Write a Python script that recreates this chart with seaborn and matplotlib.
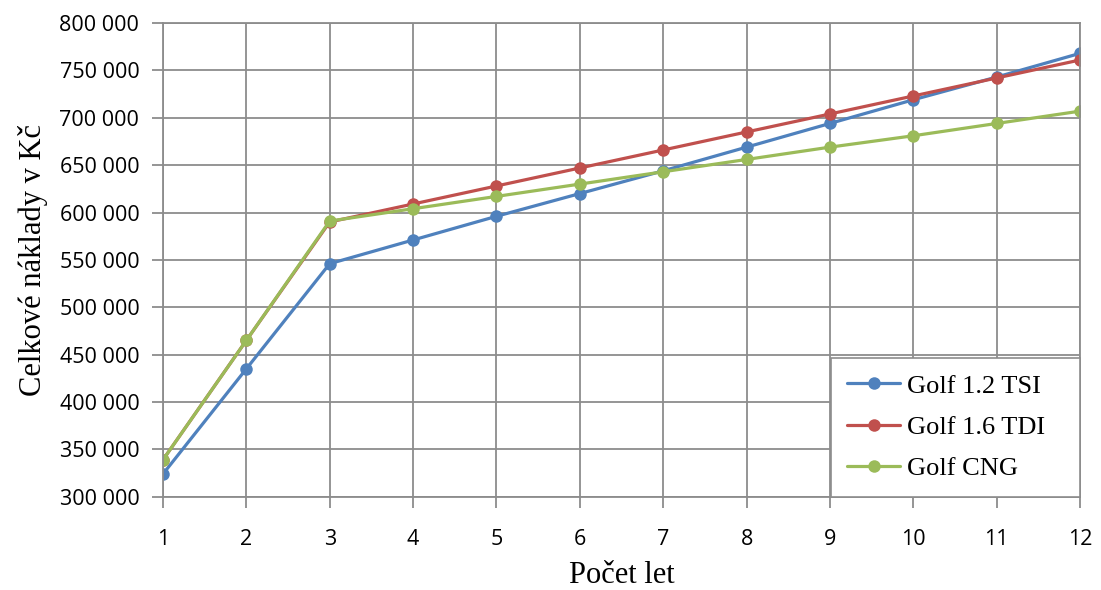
import numpy as np
import pandas as pd
import matplotlib
matplotlib.use('Agg')
import matplotlib.pyplot as plt
import matplotlib.ticker as mticker
import seaborn as sns

# 数据
years = [1, 2, 3, 4, 5, 6, 7, 8, 9, 10, 11, 12]
golf_tsi = [324000, 435000, 546000, 571000, 596000, 620000, 644000, 669000, 694000, 719000, 743000, 768000]
golf_tdi = [339000, 465000, 590000, 609000, 628000, 647000, 666000, 685000, 704000, 723000, 742000, 761000]
golf_cng = [339000, 465000, 591000, 604000, 617000, 630000, 643000, 656000, 669000, 681000, 694000, 707000]
series_names = ['Golf 1.2 TSI', 'Golf 1.6 TDI', 'Golf CNG']
colors = ['#4F81BD', '#C0504D', '#9BBB59']

df = pd.DataFrame({
    'rok': years * 3,
    'naklady': golf_tsi + golf_tdi + golf_cng,
    'auto': [series_names[0]] * 12 + [series_names[1]] * 12 + [series_names[2]] * 12,
})

sns.set_style('white')
plt.rcParams['font.family'] = ['Open Sans', 'DejaVu Sans']
plt.rcParams['text.color'] = 'black'
plt.rcParams['axes.labelcolor'] = 'black'

fig = plt.figure(figsize=(11.01, 5.9), dpi=100)
ax = fig.add_axes([0.148, 0.158, 0.833, 0.803])

sns.lineplot(data=df, x='rok', y='naklady', hue='auto', palette=colors,
             marker='o', markersize=9, markeredgewidth=0, linewidth=2.3, ax=ax)

ax.set_xlim(1, 12)
ax.set_ylim(300000, 800000)
ax.set_xticks(years)
ax.yaxis.set_major_locator(mticker.MultipleLocator(50000))
ax.yaxis.set_major_formatter(mticker.FuncFormatter(lambda v, p: f'{int(v):,}'.replace(',', ' ')))

ax.grid(True, color='#8c8c8c', linewidth=1.3)
ax.set_axisbelow(True)
for s in ax.spines.values():
    s.set_color('#8c8c8c')
    s.set_linewidth(1.3)
ax.tick_params(axis='both', which='major', direction='out', length=8, width=1.3,
               bottom=True, left=True, color='#8c8c8c', labelcolor='black',
               labelsize=15.5)
ax.tick_params(axis='x', pad=15)
ax.tick_params(axis='y', pad=9)

ax.set_xlabel('Počet let', family=['Liberation Serif'], fontsize=22, labelpad=8)
ax.set_ylabel('Celkové náklady v Kč', family=['Liberation Serif'], fontsize=22, labelpad=8)

# legenda v pravém dolním rohu
leg = ax.legend(loc='lower right', bbox_to_anchor=(0.7285, 0.0, 0.2715, 0.3),
                mode='expand', borderaxespad=0, frameon=True,
                prop={'family': 'Liberation Serif', 'size': 19},
                fancybox=False, edgecolor='#8c8c8c', framealpha=1,
                handlelength=2.0, handletextpad=0.25,
                labelspacing=0.68, borderpad=0.62)
leg.get_frame().set_linewidth(1.2)

plt.savefig('out.png', dpi=100)
